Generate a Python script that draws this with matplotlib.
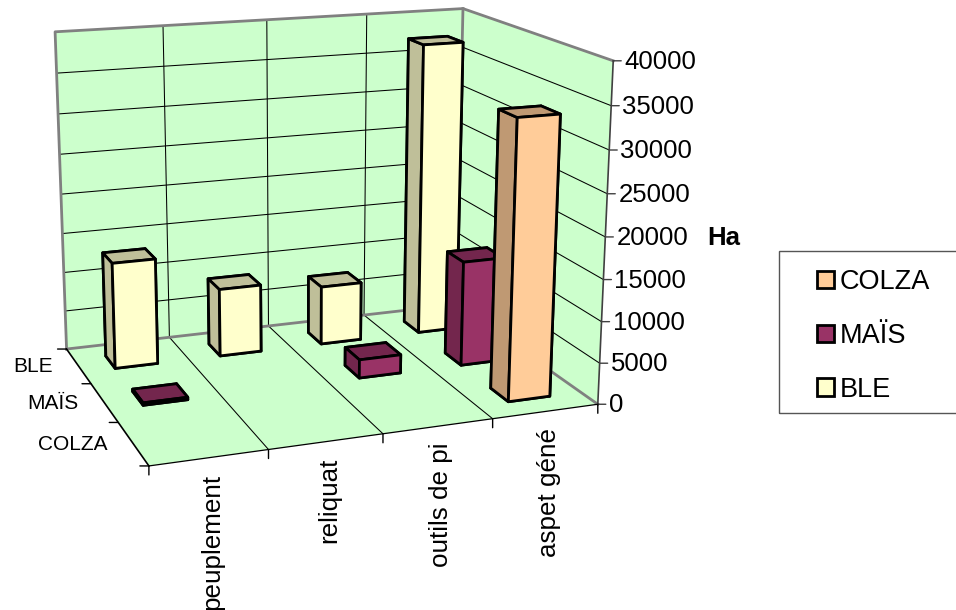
import numpy as np
import matplotlib
matplotlib.use("Agg")
import matplotlib.pyplot as plt
from matplotlib.patches import Patch, Rectangle
from mpl_toolkits.mplot3d import proj3d
from mpl_toolkits.mplot3d.art3d import Poly3DCollection

categories = ["peuplement", "reliquat", "outils de pi", "aspet géné"]
series = ["BLE", "MAÏS", "COLZA"]
ble = [13300, 8600, 7500, 37300]
mais = [300, 0, 2300, 13100]
colza = [0, 0, 0, 33500]
z_ticks = [0, 5000, 10000, 15000, 20000, 25000, 30000, 35000, 40000]
z_label = "Ha"

BG = "#FFFFCC"
WALL = "#CCFFCC"
GREY = "#808080"
front_colors = {"BLE": "#FFFFCC", "MAÏS": "#993366", "COLZA": "#FFCC99"}
side_colors = {"BLE": "#BFBF99", "MAÏS": "#73264D", "COLZA": "#BF9973"}

plt.rcParams["font.family"] = ["Liberation Sans", "DejaVu Sans"]
W, H = 956, 610
fig = plt.figure(figsize=(W / 100, H / 100), dpi=100, facecolor=BG)
ax = fig.add_axes([0, -0.284, 1, 1.567], projection="3d", computed_zorder=False)
ax.set_axis_off()
ax.apply_aspect()

nx, ny, zmax = len(categories), len(series), z_ticks[-1]

# Camera: perspective matrix fitted to the picture's box corners (pixel positions)
anchors = [
    ((0, 0, 0), (149, 466)), ((1, 0, 0), (268, 449.5)), ((2, 0, 0), (383, 434)),
    ((3, 0, 0), (493, 418.5)), ((4, 0, 0), (598, 404)), ((0, 3, 0), (66, 348)),
    ((1, 3, 0), (170, 338)), ((3, 3, 0), (365, 315)), ((4, 3, 0), (455, 305)),
    ((0, 3, 1), (55, 32)), ((4, 3, 1), (463, 8)), ((4, 0, 1), (613, 61)),
    ((1, 3, 1), (163, 26)), ((3, 3, 1), (367, 14)),
]
rows = []
for (X, Y, Z), (u, v) in anchors:
    p = np.array([X / 4, Y / 3, Z, 1.0])
    d = np.array([u, H - v]) / 1000
    rows.append(np.r_[p, np.zeros(4), -d[0] * p])
    rows.append(np.r_[np.zeros(4), p, -d[1] * p])
P = np.linalg.svd(np.array(rows))[2][-1].reshape(3, 4)
P = P / P[2, 3]
P = P @ np.diag([1 / nx, 1 / ny, 1 / zmax, 1.0])
# display pixels -> axes 2D coordinates
inv = ax.transData.inverted()
o, ex, ey = inv.transform([[0, 0], [1000, 0], [0, 1000]])
A = np.array([[ex[0] - o[0], 0, o[0]], [0, ey[1] - o[1], o[1]], [0, 0, 1]])
Q = A @ P
depth = -Q[2] + 0.05 * np.array([0.3, 1.0, -1e-5, 0])
M = np.vstack([Q[0], Q[1], depth, Q[2]])
ax.get_proj = lambda: M
ax.M = M


def project(x, y, z):
    px, py, _ = proj3d.proj_transform(x, y, z, M)
    return float(px), float(py)


def tick(x, y, z, dx, dy, color="black", lw=1.0):
    ax.annotate("", xy=project(x, y, z), xytext=(dx, dy), textcoords="offset pixels",
                arrowprops=dict(arrowstyle="-", lw=lw, color=color, shrinkA=0, shrinkB=0),
                zorder=3)


def label(x, y, z, s, dx, dy, **kw):
    ax.annotate(s, xy=project(x, y, z), xytext=(dx, dy), textcoords="offset pixels",
                color="black", zorder=3, **kw)


# walls and floor
panels = [
    [(0, ny, 0), (nx, ny, 0), (nx, ny, zmax), (0, ny, zmax)],
    [(nx, 0, 0), (nx, ny, 0), (nx, ny, zmax), (nx, 0, zmax)],
    [(0, 0, 0), (nx, 0, 0), (nx, ny, 0), (0, ny, 0)],
]
ax.add_collection3d(Poly3DCollection(panels, facecolors=WALL, edgecolors="none", zorder=1))

# gridlines
for z in z_ticks[1:-1]:
    ax.plot([0, nx, nx], [ny, ny, 0], [z, z, z], color="black", lw=0.75, zorder=2)
for x in range(1, nx):
    ax.plot([x, x], [ny, ny], [0, zmax], color="black", lw=0.75, zorder=2)
    ax.plot([x, x], [0, ny], [0, 0], color="black", lw=0.75, zorder=2)

# wall outlines
ax.plot([0, 0, nx, nx], [ny, ny, ny, 0], [0, zmax, zmax, zmax], color=GREY, lw=2.0, zorder=2)
ax.plot([nx, nx], [ny, ny], [0, zmax], color=GREY, lw=2.0, zorder=2)
ax.plot([0, nx, nx], [ny, ny, 0], [0, 0, 0], color=GREY, lw=2.0, zorder=2)

# axes lines
ax.plot([0, 0], [ny, 0], [0, 0], color="black", lw=1.2, zorder=2)
ax.plot([0, nx], [0, 0], [0, 0], color="black", lw=0.9, zorder=2)
ax.plot([nx, nx], [0, 0], [0, zmax], color="#404040", lw=1.2, zorder=2)

# bars, back row first
bar_w, bar_d = 0.40, 0.36
order = 5
for j, (name, vals) in enumerate(zip(series, [ble, mais, colza])):
    y0 = ny - 1 - j + 0.5 - bar_d / 2
    for i, v in enumerate(vals):
        if v <= 0:
            continue
        f, s = front_colors[name], side_colors[name]
        ax.bar3d(i + 0.5 - bar_w / 2, y0, 0, bar_w, bar_d, v,
                 color=[s, s, f, s, s, s], shade=False,
                 edgecolor="black", linewidth=2.0, zorder=order)
        order += 1

# ticks and text
for z in z_ticks:
    tick(nx, 0, z, 8, 0, color="#404040")
    label(nx, 0, z, f"{z}", 11, -1, ha="left", va="center", fontsize=18.5)
for x in range(nx + 1):
    tick(x, 0, 0, 0, -9)
for j in range(ny + 1):
    tick(0, j, 0, -9, 0)
for i, c in enumerate(categories):
    label(i + 0.5, 0, 0, c, 3, -16.5, rotation=90, ha="center", va="top", fontsize=18.7)
for j, s in enumerate(series):
    label(0, ny - 1 - j + 0.5, 0, s, -26, -1, ha="right", va="center", fontsize=15)
fig.text(724 / W, 1 - 238 / H, z_label, ha="center", va="center", fontsize=18.5, fontweight="bold")

# legend
fig.add_artist(Rectangle((779 / W, 1 - 413 / H), 200 / W, 162 / H, transform=fig.transFigure,
                         facecolor="none", edgecolor="#555555", linewidth=1))
handles = [Patch(facecolor=front_colors[s], edgecolor="black", linewidth=2.0, label=s)
           for s in reversed(series)]
fig.legend(handles=handles, loc="upper left", bbox_to_anchor=(817 / W, 1 - 269 / H),
           bbox_transform=fig.transFigure, fontsize=19.5, frameon=False, borderpad=0,
           borderaxespad=0, handlelength=0.63, handleheight=0.63, handletextpad=0.2,
           labelspacing=1.03)

fig.savefig("out.png", dpi=100, facecolor=BG)
